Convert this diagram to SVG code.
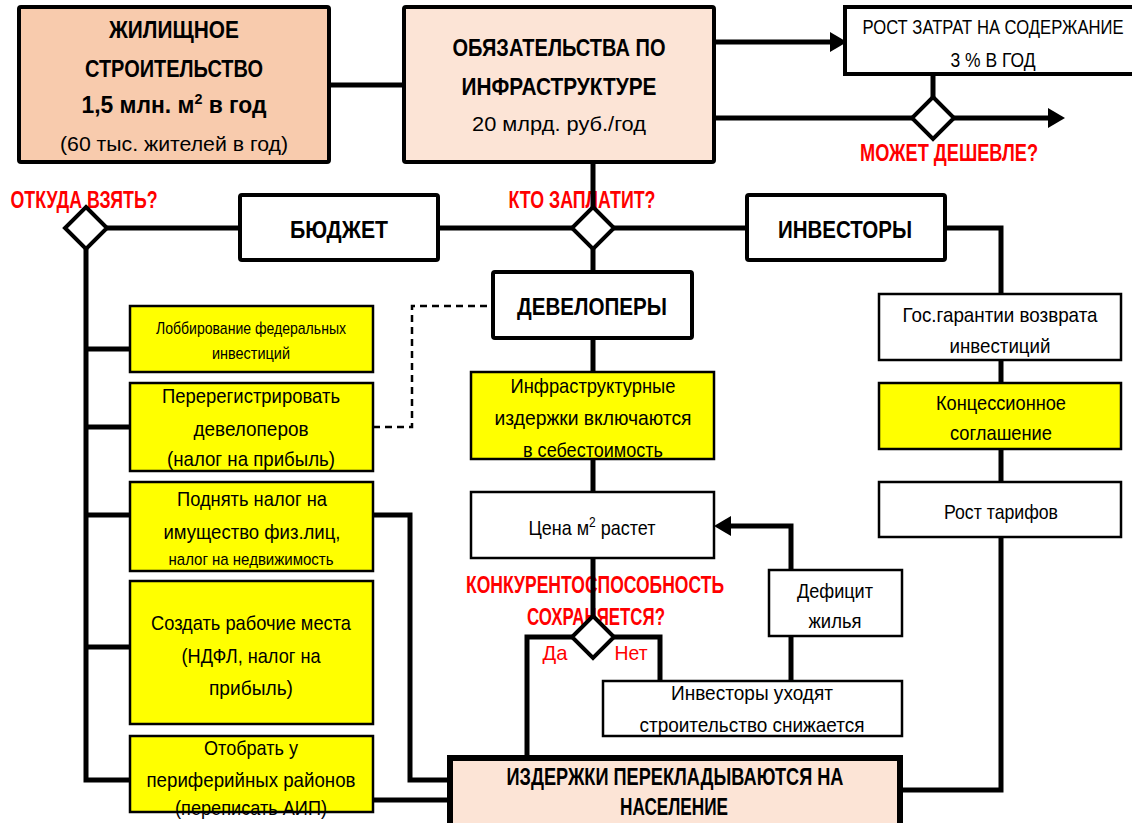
<svg xmlns="http://www.w3.org/2000/svg" width="1132" height="823" viewBox="0 0 1132 823">
<defs>
<style>
text{font-family:"Liberation Sans",Arial,sans-serif;text-anchor:middle;fill:#000}
.b{font-weight:bold}
.r{fill:#FF0000}
.h{font-size:24px;font-weight:bold}
.n{font-size:21px}
.s{font-size:17px}
.big{stroke:#000;stroke-width:4}
.box{stroke:#000;stroke-width:2.5}
.mid{stroke:#000;stroke-width:4}
.y{fill:#FFFF00}
.w{fill:#FFFFFF}
.p1{fill:#F8CBAD}
.p2{fill:#FCE4D6}
.c{fill:none;stroke:#000;stroke-width:5}
.d{fill:none;stroke:#000;stroke-width:2.5;stroke-dasharray:7 5}
.dia{fill:#fff;stroke:#000;stroke-width:4}
.ar{fill:#000}
</style>
</defs>
<rect width="1132" height="823" fill="#fff"/>

<g id="n-housing">
<rect class="p1 big" x="19" y="7" width="310" height="155" rx="2"/>
<text class="h" x="174" y="38" textLength="130" lengthAdjust="spacingAndGlyphs">ЖИЛИЩНОЕ</text>
<text class="h" x="174" y="77" textLength="178" lengthAdjust="spacingAndGlyphs">СТРОИТЕЛЬСТВО</text>
<text class="h" x="174" y="113" textLength="185" lengthAdjust="spacingAndGlyphs">1,5 млн. м<tspan font-size="15" dy="-9">2</tspan><tspan dy="9"> в год</tspan></text>
<text class="n" x="174" y="151" textLength="228" lengthAdjust="spacingAndGlyphs">(60 тыс. жителей в год)</text>
</g>

<g id="n-obligations">
<rect class="p2 big" x="404" y="7" width="310" height="155" rx="2"/>
<text class="h" x="559" y="56" textLength="213" lengthAdjust="spacingAndGlyphs">ОБЯЗАТЕЛЬСТВА ПО</text>
<text class="h" x="559" y="95" textLength="195" lengthAdjust="spacingAndGlyphs">ИНФРАСТРУКТУРЕ</text>
<text class="n" x="559" y="131" textLength="174" lengthAdjust="spacingAndGlyphs">20 млрд. руб./год</text>
</g>

<g id="n-costs">
<rect class="w big" x="845" y="7" width="295" height="67"/>
<text class="n" x="993" y="34" textLength="261" lengthAdjust="spacingAndGlyphs">РОСТ ЗАТРАТ НА СОДЕРЖАНИЕ</text>
<text class="n" x="993" y="67" textLength="85" lengthAdjust="spacingAndGlyphs">3 % В ГОД</text>
</g>

<g id="n-cheaper">
<text class="h r" x="949" y="161" textLength="178" lengthAdjust="spacingAndGlyphs">МОЖЕТ ДЕШЕВЛЕ?</text>
</g>

<g id="n-where">
<text class="h r" x="84" y="208" textLength="147" lengthAdjust="spacingAndGlyphs">ОТКУДА ВЗЯТЬ?</text>
</g>

<g id="n-budget">
<rect class="w mid" x="240" y="195" width="198" height="65" rx="2"/>
<text class="h" x="339" y="238" textLength="98" lengthAdjust="spacingAndGlyphs">БЮДЖЕТ</text>
</g>

<g id="n-who">
<text class="h r" x="582" y="208" textLength="147" lengthAdjust="spacingAndGlyphs">КТО ЗАПЛАТИТ?</text>
</g>

<g id="n-investors">
<rect class="w mid" x="747" y="195" width="198" height="65" rx="2"/>
<text class="h" x="845" y="238" textLength="134" lengthAdjust="spacingAndGlyphs">ИНВЕСТОРЫ</text>
</g>

<g id="n-developers">
<rect class="w mid" x="493" y="272" width="199" height="66" rx="2"/>
<text class="h" x="592" y="315" textLength="150" lengthAdjust="spacingAndGlyphs">ДЕВЕЛОПЕРЫ</text>
</g>

<g id="n-lobby">
<rect class="y box" x="130" y="306" width="243" height="66"/>
<text class="s" x="251" y="334" textLength="190" lengthAdjust="spacingAndGlyphs">Лоббирование федеральных</text>
<text class="s" x="251" y="359" textLength="78" lengthAdjust="spacingAndGlyphs">инвестиций</text>
</g>

<g id="n-rereg">
<rect class="y box" x="130" y="383" width="243" height="88"/>
<text class="n" x="251" y="403" textLength="178" lengthAdjust="spacingAndGlyphs">Перерегистрировать</text>
<text class="n" x="251" y="436" textLength="115" lengthAdjust="spacingAndGlyphs">девелоперов</text>
<text class="n" x="251" y="466" textLength="168" lengthAdjust="spacingAndGlyphs">(налог на прибыль)</text>
</g>

<g id="n-tax">
<rect class="y box" x="130" y="482" width="243" height="89"/>
<text class="n" x="252" y="506" textLength="150" lengthAdjust="spacingAndGlyphs">Поднять налог на</text>
<text class="n" x="252" y="539" textLength="177" lengthAdjust="spacingAndGlyphs">имущество физ.лиц,</text>
<text class="s" x="251" y="565" textLength="165" lengthAdjust="spacingAndGlyphs">налог на недвижимость</text>
</g>

<g id="n-jobs">
<rect class="y box" x="130" y="581" width="243" height="143"/>
<text class="n" x="251" y="630" textLength="200" lengthAdjust="spacingAndGlyphs">Создать рабочие места</text>
<text class="n" x="251" y="663" textLength="139" lengthAdjust="spacingAndGlyphs">(НДФЛ, налог на</text>
<text class="n" x="251" y="695" textLength="84" lengthAdjust="spacingAndGlyphs">прибыль)</text>
</g>

<g id="n-take">
<rect class="y box" x="130" y="736" width="243" height="76"/>
<text class="n" x="251" y="755" textLength="94" lengthAdjust="spacingAndGlyphs">Отобрать у</text>
<text class="n" x="251" y="787" textLength="209" lengthAdjust="spacingAndGlyphs">периферийных районов</text>
<text class="n" x="251" y="815" textLength="152" lengthAdjust="spacingAndGlyphs">(переписать АИП)</text>
</g>

<g id="n-infra">
<rect class="y box" x="471" y="372" width="243" height="87"/>
<text class="n" x="593" y="393" textLength="165" lengthAdjust="spacingAndGlyphs">Инфраструктурные</text>
<text class="n" x="593" y="425" textLength="197" lengthAdjust="spacingAndGlyphs">издержки включаются</text>
<text class="n" x="593" y="457" textLength="140" lengthAdjust="spacingAndGlyphs">в себестоимость</text>
</g>

<g id="n-price">
<rect class="w box" x="471" y="492" width="243" height="66"/>
<text class="n" x="592" y="535" textLength="127" lengthAdjust="spacingAndGlyphs">Цена м<tspan font-size="14" dy="-8">2</tspan><tspan dy="8"> растет</tspan></text>
</g>

<g id="n-compet">
<text class="h r" x="595" y="593" textLength="258" lengthAdjust="spacingAndGlyphs">КОНКУРЕНТОСПОСОБНОСТЬ</text>
<text class="h r" x="596" y="625" textLength="138" lengthAdjust="spacingAndGlyphs">СОХРАНЯЕТСЯ?</text>
<text class="n r" x="555" y="660" textLength="25" lengthAdjust="spacingAndGlyphs">Да</text>
<text class="n r" x="631" y="660" textLength="33" lengthAdjust="spacingAndGlyphs">Нет</text>
</g>

<g id="n-deficit">
<rect class="w box" x="769" y="570" width="133" height="66"/>
<text class="n" x="835" y="598" textLength="76" lengthAdjust="spacingAndGlyphs">Дефицит</text>
<text class="n" x="835" y="628" textLength="53" lengthAdjust="spacingAndGlyphs">жилья</text>
</g>

<g id="n-leave">
<rect class="w box" x="603" y="681" width="299" height="55"/>
<text class="n" x="752" y="700" textLength="162" lengthAdjust="spacingAndGlyphs">Инвесторы уходят</text>
<text class="n" x="752" y="732" textLength="225" lengthAdjust="spacingAndGlyphs">строительство  снижается</text>
</g>

<g id="n-population">
<rect class="p2" x="450" y="758" width="450" height="75" stroke="#000" stroke-width="6"/>
<text class="h" x="675" y="785" textLength="337" lengthAdjust="spacingAndGlyphs">ИЗДЕРЖКИ ПЕРЕКЛАДЫВАЮТСЯ НА</text>
<text class="h" x="674" y="815" textLength="108" lengthAdjust="spacingAndGlyphs">НАСЕЛЕНИЕ</text>
</g>

<g id="n-guarantee">
<rect class="w box" x="879" y="294" width="242" height="66"/>
<text class="n" x="1000" y="322" textLength="195" lengthAdjust="spacingAndGlyphs">Гос.гарантии возврата</text>
<text class="n" x="1000" y="353" textLength="101" lengthAdjust="spacingAndGlyphs">инвестиций</text>
</g>

<g id="n-concession">
<rect class="y box" x="879" y="383" width="242" height="66"/>
<text class="n" x="1001" y="410" textLength="130" lengthAdjust="spacingAndGlyphs">Концессионное</text>
<text class="n" x="1001" y="440" textLength="102" lengthAdjust="spacingAndGlyphs">соглашение</text>
</g>

<g id="n-tariffs">
<rect class="w box" x="879" y="482" width="242" height="55"/>
<text class="n" x="1001" y="519" textLength="114" lengthAdjust="spacingAndGlyphs">Рост тарифов</text>
</g>

<g id="connectors">
<path class="c" d="M329 85 H404"/>
<path class="c" d="M714 42 H832"/>
<path class="c" d="M714 118 H1050"/>
<path class="c" d="M933 74 V97"/>
<path class="c" d="M593 162 V208"/>
<path class="c" d="M107 228 H240 M438 228 H572 M613 228 H747"/>
<path class="c" d="M945 228 H1001 V294 M1001 360 V383 M1001 449 V482 M1001 537 V790 H903"/>
<path class="c" d="M593 249 V272 M593 338 V372 M593 459 V492 M593 558 V617"/>
<path class="c" d="M86 249 V780 H130"/>
<path class="c" d="M86 349 H130 M86 427 H130 M86 515 H130 M86 647 H130"/>
<path class="c" d="M373 515 H410 V780 H450"/>
<path class="c" d="M373 800 H450"/>
<path class="c" d="M572 637 H527 V758"/>
<path class="c" d="M614 637 H660 V681"/>
<path class="c" d="M791 636 V681"/>
<path class="c" d="M791 570 V526 H728"/>
<path class="d" d="M373 427 H412 V306 H493"/>
<polygon class="ar" points="847,42 830,32 830,52"/>
<polygon class="ar" points="1065,118 1048,108 1048,128"/>
<polygon class="ar" points="714,526 731,516 731,536"/>
<polygon class="dia" points="933,97 954,118 933,139 912,118"/>
<polygon class="dia" points="86,207 107,228 86,249 65,228"/>
<polygon class="dia" points="593,207 614,228 593,249 572,228"/>
<polygon class="dia" points="593,616 614,637 593,658 572,637"/>
</g>
</svg>
